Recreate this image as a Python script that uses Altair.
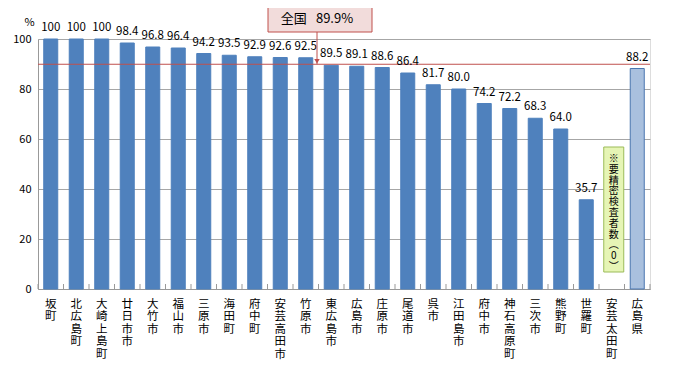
import altair as alt
import pandas as pd

categories = ["坂町", "北広島町", "大崎上島町", "廿日市市", "大竹市", "福山市", "三原市", "海田町",
              "府中町", "安芸高田市", "竹原市", "東広島市", "広島市", "庄原市", "尾道市", "呉市",
              "江田島市", "府中市", "神石高原町", "三次市", "熊野町", "世羅町", "安芸太田町", "広島県"]
values = [100, 100, 100, 98.4, 96.8, 96.4, 94.2, 93.5, 92.9, 92.6, 92.5, 89.5, 89.1, 88.6, 86.4,
          81.7, 80.0, 74.2, 72.2, 68.3, 64.0, 35.7, None, 88.2]
labels = ["100", "100", "100", "98.4", "96.8", "96.4", "94.2", "93.5", "92.9", "92.6", "92.5",
          "89.5", "89.1", "88.6", "86.4", "81.7", "80.0", "74.2", "72.2", "68.3", "64.0", "35.7",
          "", "88.2"]
kinds = ["市町"] * 23 + ["県"]
national = 89.9
national_label = "全国\u2002\u200989.9%"
note_category = "安芸太田町"
note_text = "※\n要\n精\n密\n検\n査\n者\n数\n︵\n0\n︶"
y_ticks = [0, 20, 40, 60, 80, 100]

W, H = 612, 250
STEP = W / len(categories)
FONT = "Noto Sans CJK JP"

df = pd.DataFrame({"cat": categories, "value": values, "label": labels, "kind": kinds})

xenc = alt.X("cat:N", sort=categories,
             scale=alt.Scale(paddingInner=0.45, paddingOuter=0.225),
             axis=alt.Axis(title=None, labelAngle=0, labelExpr="split(datum.value, '')",
                           labelBaseline="top", labelAlign="center", labelFont=FONT,
                           labelFontSize=11.5, labelLineHeight=12.5, labelPadding=9,
                           labelColor="#000000", ticks=False, domainColor="#999999",
                           labelOverlap=False))
yscale = alt.Scale(domain=[0, 100], nice=False)

base = alt.Chart(df)

bars = base.mark_bar().encode(
    x=xenc,
    y=alt.Y("value:Q", scale=yscale,
            axis=alt.Axis(values=y_ticks, title="%", titleAngle=0, titleX=-9, titleY=-17,
                          titleAlign="center", titleBaseline="middle", titleFont=FONT,
                          titleFontSize=11, titleFontWeight="normal", titleColor="#000000",
                          labelFont=FONT, labelFontSize=11, labelColor="#000000",
                          labelPadding=7, ticks=False, gridColor="#a6a6a6",
                          domainColor="#999999")),
    color=alt.Color("kind:N", scale=alt.Scale(domain=["市町", "県"], range=["#4f81bd", "#a9c0de"]),
                    legend=None),
    stroke=alt.Stroke("kind:N", scale=alt.Scale(domain=["市町", "県"], range=["#4f81bd", "#4a76b0"]),
                      legend=None),
)

text = base.mark_text(baseline="bottom", dy=-6, font=FONT, fontSize=11.5, color="#000000").encode(
    x=alt.X("cat:N", sort=categories),
    y=alt.Y("value:Q", scale=yscale),
    text="label:N",
)

ticks = base.mark_rule(xOffset=-STEP / 2, color="#999999").encode(
    x=alt.X("cat:N", sort=categories), y=alt.value(H - 5), y2=alt.value(H))
last_tick = alt.Chart(df[df["cat"] == categories[-1]]).mark_rule(xOffset=STEP / 2, color="#999999").encode(
    x=alt.X("cat:N", sort=categories), y=alt.value(H - 5), y2=alt.value(H))

nat_df = pd.DataFrame({"v": [national], "t": [national_label]})
nat_line = alt.Chart(nat_df).mark_rule(color="#c0504d", strokeWidth=1).encode(y=alt.Y("v:Q", scale=yscale))

box = alt.Chart(nat_df).mark_rect(fill="#f2dcdb", stroke="#c0504d", strokeWidth=1).encode(
    x=alt.value(230), x2=alt.value(334), y=alt.value(-34), y2=alt.value(-7))
box_text = alt.Chart(nat_df).mark_text(font=FONT, fontSize=13, color="#000000", baseline="middle").encode(
    x=alt.value(279), y=alt.value(-20), text="t:N")
arrow = alt.Chart(nat_df).mark_rule(color="#c0504d").encode(
    x=alt.value(279), y=alt.Y("v:Q", scale=yscale), y2=alt.value(-7))
head = alt.Chart(nat_df).mark_point(shape="triangle-down", filled=True, color="#c0504d", size=30,
                                    opacity=1, yOffset=-3).encode(
    x=alt.value(279), y=alt.Y("v:Q", scale=yscale))

note_df = pd.DataFrame({"cat": [note_category], "t": [note_text]})
note_box = alt.Chart(note_df).mark_bar(size=20, xOffset=2, fill="#e6f5b5", stroke="#9bbb59", strokeWidth=1).encode(
    x=alt.X("cat:N", sort=categories), y=alt.value(108), y2=alt.value(233))
note_txt = alt.Chart(note_df).mark_text(font=FONT, fontSize=10, lineBreak="\n", lineHeight=10.8,
                                        baseline="top", color="#000000", dx=2).encode(
    x=alt.X("cat:N", sort=categories), y=alt.value(115), text="t:N")

chart = alt.layer(bars, ticks, last_tick, nat_line, text, arrow, head, box, box_text, note_box, note_txt).properties(
    width=W, height=H,
    autosize=alt.AutoSizeParams(type="none"),
    padding={"left": 30, "top": 31, "right": 23, "bottom": 73},
).configure_view(stroke=None).configure(background="#ffffff")

chart.save("out.html", embed_options={"renderer": "svg", "actions": False})
